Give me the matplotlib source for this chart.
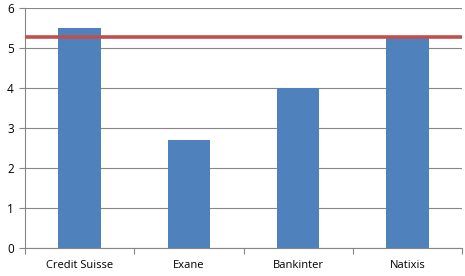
import matplotlib
matplotlib.use("Agg")
import matplotlib.pyplot as plt
import numpy as np

# data
brokers = ["Credit Suisse", "Exane", "Bankinter", "Natixis"]
values = [5.5, 2.7, 4.0, 5.25]
reference_level = 5.28
yticks = [0, 1, 2, 3, 4, 5, 6]

plt.rcParams['font.family'] = ['Open Sans', 'DejaVu Sans']

fig = plt.figure(figsize=(4.65, 2.76), dpi=100)
ax = fig.add_axes([25 / 465, 28 / 276, 437 / 465, 240 / 276])

x = np.arange(len(brokers))
ax.bar(x, values, width=0.39, color='#4F81BD', zorder=2)
ax.axhline(reference_level, color='#C0504D', linewidth=2.6, zorder=3)

ax.set_xlim(-0.5, len(brokers) - 0.5)
ax.set_ylim(0, 6)
ax.set_yticks(yticks)
ax.set_xticks(x)
ax.set_xticklabels(brokers, fontsize=8)
ax.tick_params(axis='x', length=0, pad=9)
ax.set_xticks(np.arange(len(brokers) + 1) - 0.5, minor=True)
ax.tick_params(axis='x', which='minor', length=4, color='#868686', width=0.8)
ax.tick_params(axis='y', labelsize=8.5, length=4, color='#868686', width=0.8, pad=4)

ax.grid(axis='y', color='#868686', linewidth=0.8, zorder=0)
ax.set_axisbelow(True)
for side in ['top', 'right']:
    ax.spines[side].set_visible(False)
for side in ['left', 'bottom']:
    ax.spines[side].set_color('#868686')
    ax.spines[side].set_linewidth(0.8)

plt.savefig('out.png', dpi=100)
